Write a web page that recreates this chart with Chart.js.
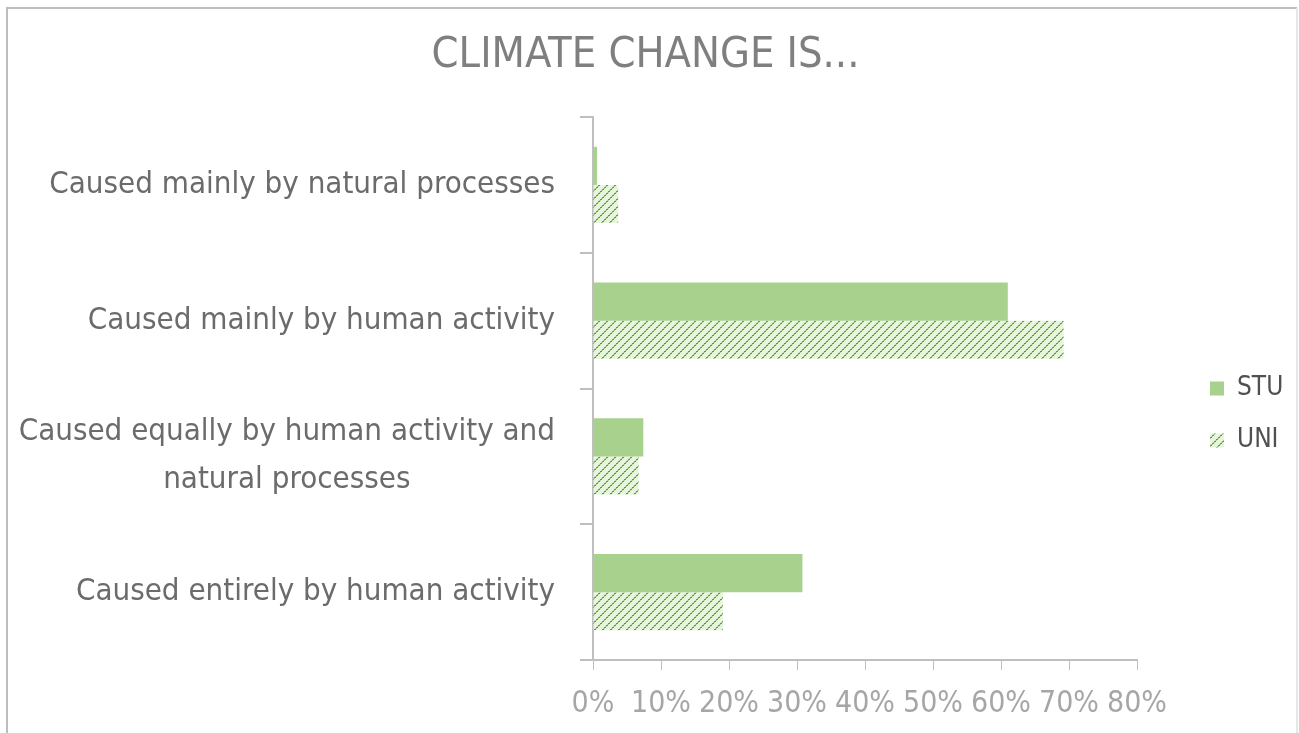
<!DOCTYPE html>
<html>
<head>
<meta charset="utf-8">
<script src="https://cdn.jsdelivr.net/npm/chart.js@4/dist/chart.umd.min.js"></script>
<style>
  html, body { margin: 0; padding: 0; background: #fff; }
  #wrap { width: 1299px; height: 733px; }
</style>
</head>
<body>
<div id="wrap"><canvas id="chart" width="1299" height="733"></canvas></div>
<script>
const categories = [
  "Caused mainly by natural processes",
  "Caused mainly by human activity",
  ["Caused equally by human activity and", "natural processes"],
  "Caused entirely by human activity"
];
const seriesNames = ["STU", "UNI"];
const stuValues = [0.6, 61, 7.4, 30.8];
const uniValues = [3.7, 69.2, 6.7, 19.1];
const tickValues = [0, 10, 20, 30, 40, 50, 60, 70, 80];

const LABEL_FONT = "'Liberation Sans Narrow', 'DejaVu Sans Condensed', sans-serif";

function makeHatch() {
  const c = document.createElement("canvas");
  c.width = 8;
  c.height = 8;
  const g = c.getContext("2d");
  g.fillStyle = "#e8f3e0";
  g.fillRect(0, 0, 8, 8);
  // dotted diagonal "/" line
  for (let i = 0; i < 8; i++) {
    g.fillStyle = i % 2 === 0 ? "#5f9f3d" : "#a3cf8a";
    g.fillRect(i, 7 - i, 1, 1);
    g.fillRect((i + 1) % 8, 7 - i, 1, 1);
  }
  return g.createPattern(c, "repeat");
}

// outer frame like the pasted slide picture
const framePlugin = {
  id: "frame",
  afterDraw(chart) {
    const ctx = chart.ctx;
    ctx.save();
    ctx.strokeStyle = "#bdbdbd";
    ctx.lineWidth = 2;
    ctx.beginPath();
    ctx.moveTo(7, 733);
    ctx.lineTo(7, 8);
    ctx.lineTo(1297, 8);
    ctx.stroke();
    ctx.strokeStyle = "#e6e6e6";
    ctx.beginPath();
    ctx.moveTo(1297, 8);
    ctx.lineTo(1297, 733);
    ctx.stroke();
    ctx.restore();
  }
};

// keep a wider gap between plot and legend, as in the original
const legendGap = {
  id: "legendGap",
  afterLayout(chart) {
    const lg = chart.legend;
    if (!lg) return;
    const dx = chart.chartArea.right + 47 - lg.left;
    lg.left += dx;
    lg.right += dx;
  }
};

// category labels: single lines right aligned, wrapped ones centred on themselves
const catLabelPlugin = {
  id: "catLabels",
  afterDraw(chart) {
    const y = chart.scales.y;
    const ctx = chart.ctx;
    const right = 555;
    ctx.save();
    ctx.font = "31px " + LABEL_FONT;
    ctx.fillStyle = "#6b6b6b";
    ctx.textBaseline = "middle";
    ctx.textAlign = "center";
    categories.forEach((lab, i) => {
      const cy = y.getPixelForTick(i);
      const lines = Array.isArray(lab) ? lab : [lab];
      const lh = 48;
      const widest = Math.max(...lines.map(l => ctx.measureText(l).width));
      const mid = right - widest / 2;
      lines.forEach((l, k) => {
        ctx.fillText(l, mid, cy + (k - (lines.length - 1) / 2) * lh);
      });
    });
    ctx.restore();
  }
};

const hatch = makeHatch();

new Chart(document.getElementById("chart"), {
  type: "bar",
  data: {
    labels: categories,
    datasets: [
      {
        label: seriesNames[0],
        data: stuValues,
        backgroundColor: "#a9d18e",
        borderWidth: 0,
        barPercentage: 1,
        categoryPercentage: 0.56
      },
      {
        label: seriesNames[1],
        data: uniValues,
        backgroundColor: hatch,
        borderWidth: 0,
        barPercentage: 1,
        categoryPercentage: 0.56
      }
    ]
  },
  options: {
    indexAxis: "y",
    responsive: false,
    animation: false,
    layout: { padding: { left: 0, right: 8, top: 0, bottom: 0 } },
    plugins: {
      title: {
        display: true,
        text: "CLIMATE CHANGE IS...",
        color: "#7f7f7f",
        font: { family: LABEL_FONT, size: 43, weight: "normal" },
        padding: { top: 30, bottom: 35.4 }
      },
      legend: {
        position: "right",
        title: {
          display: true,
          text: " ",
          font: { size: 26 },
          padding: { top: 32, bottom: 33 }
        },
        labels: {
          color: "#505050",
          font: { family: LABEL_FONT, size: 26 },
          boxWidth: 14,
          boxHeight: 14,
          padding: 26
        }
      },
      tooltip: { enabled: false }
    },
    scales: {
      x: {
        min: 0,
        max: 80,
        afterBuildTicks: scale => {
          scale.ticks = tickValues.map(v => ({ value: v }));
        },
        afterFit: scale => {
          scale.height = 73;
          scale.paddingRight = 162;
        },
        ticks: {
          color: "#a6a6a6",
          font: { family: LABEL_FONT, size: 30 },
          padding: 16,
          maxRotation: 0,
          callback: v => v + "%"
        },
        grid: {
          drawOnChartArea: false,
          drawTicks: true,
          tickLength: 10,
          color: "#bfbfbf"
        },
        border: { color: "#bfbfbf", width: 2 }
      },
      y: {
        afterFit: scale => { scale.width = 593; },
        ticks: { display: false },
        grid: {
          offset: true,
          drawOnChartArea: false,
          drawTicks: true,
          tickLength: 13,
          color: "#bfbfbf",
          lineWidth: 2
        },
        border: { color: "#bfbfbf", width: 2 }
      }
    }
  },
  plugins: [framePlugin, legendGap, catLabelPlugin]
});
</script>
</body>
</html>
